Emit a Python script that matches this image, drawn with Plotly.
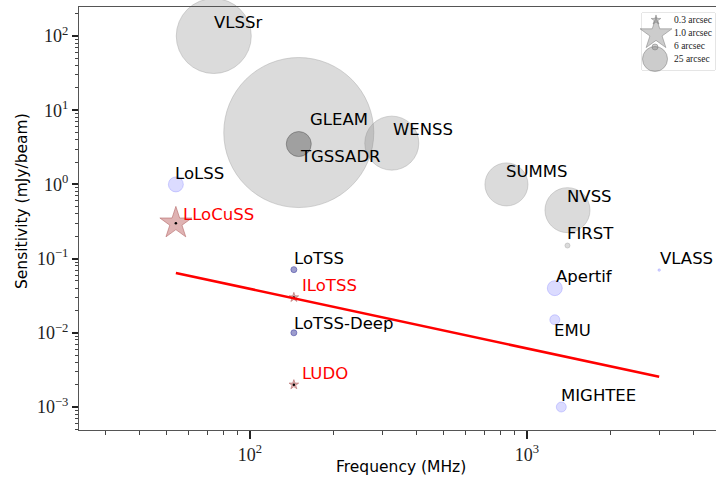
import numpy as np
import plotly.graph_objects as go

# ---------------- data ----------------
grey_names = ["VLSSr", "GLEAM", "WENSS", "SUMMS", "NVSS", "FIRST"]
grey_freq = [74, 150, 325, 843, 1400, 1400]
grey_sens = [100, 5.0, 3.6, 1.0, 0.45, 0.15]
grey_res = [75, 150, 54, 43, 45, 5]

tgss_names = ["TGSSADR"]
tgss_freq = [150]
tgss_sens = [3.5]
tgss_res = [25]

lblue_names = ["LoLSS", "Apertif", "EMU", "MIGHTEE", "VLASS"]
lblue_freq = [54, 1260, 1260, 1330, 3000]
lblue_sens = [1.0, 0.04, 0.015, 0.001, 0.07]
lblue_res = [15, 15, 10, 10, 2.5]

dblue_names = ["LoTSS", "LoTSS-Deep"]
dblue_freq = [144, 144]
dblue_sens = [0.071, 0.01]
dblue_res = [6, 6]

star_names = ["LLoCuSS", "ILoTSS", "LUDO"]
star_freq = [54, 144, 144]
star_sens = [0.3, 0.03, 0.002]
star_res = [1.0, 0.3, 0.3]

line_freq = [54, 3000]
line_sens = [0.064, 0.00255]

legend_labels = ["0.3 arcsec", "1.0 arcsec", "6 arcsec", "25 arcsec"]
legend_res = [0.3, 1.0, 6, 25]
legend_kind = ["star", "star", "circle", "circle"]

x_tickvals = [100, 1000]
x_ticktext = ["10<sup>2</sup>", "10<sup>3</sup>"]
y_tickvals = [1e-3, 1e-2, 1e-1, 1e0, 1e1, 1e2]
y_ticktext = ["10<sup>−3</sup>", "10<sup>−2</sup>", "10<sup>−1</sup>",
              "10<sup>0</sup>", "10<sup>1</sup>", "10<sup>2</sup>"]

# ---------------- styles ----------------
CIRCLE_PX_PER_ARCSEC = 1.0
STAR_PX_PER_ARCSEC = 24.0

W, H = 716, 486
ML, MR, MT, MB = 79, 0, 7, 56
PW, PH = W - ML - MR, H - MT - MB

fig = go.Figure()

def circ(names, f, s, r, fill, edge):
    fig.add_trace(go.Scatter(
        x=f, y=s, mode="markers", text=names, hoverinfo="text",
        marker=dict(symbol="circle", size=[v * CIRCLE_PX_PER_ARCSEC for v in r],
                    color=fill, line=dict(color=edge, width=1)),
        showlegend=False, cliponaxis=False))

circ(grey_names, grey_freq, grey_sens, grey_res, "rgba(128,128,128,0.4)", "rgba(128,128,128,0.45)")
circ(tgss_names, tgss_freq, tgss_sens, tgss_res, "rgba(0,0,0,0.38)", "rgba(0,0,0,0.4)")
circ(lblue_names, lblue_freq, lblue_sens, lblue_res, "rgba(0,0,255,0.2)", "rgba(0,0,255,0.22)")
circ(dblue_names, dblue_freq, dblue_sens, dblue_res, "rgba(0,0,128,0.55)", "rgba(0,0,128,0.6)")

fig.add_trace(go.Scatter(
    x=star_freq, y=star_sens, mode="markers", text=star_names, hoverinfo="text",
    marker=dict(symbol="star", size=[v * STAR_PX_PER_ARCSEC for v in star_res],
                color="rgba(165,42,42,0.5)", line=dict(color="rgba(150,40,40,0.6)", width=1)),
    showlegend=False, cliponaxis=False))
fig.add_trace(go.Scatter(
    x=star_freq, y=star_sens, mode="markers", hoverinfo="skip",
    marker=dict(symbol="circle", size=2.5, color="black"), showlegend=False))

fig.add_trace(go.Scatter(
    x=line_freq, y=line_sens, mode="lines", hoverinfo="skip",
    line=dict(color="red", width=2.6), showlegend=False))

# labels: (dx px, dy px) offsets of the text from the marker
label_offsets = {
    "VLSSr": (0, 14.5), "GLEAM": (11, 14.5), "TGSSADR": (1, -11), "WENSS": (1, 14.5),
    "LoLSS": (-1, 11.5), "LLoCuSS": (7, 10), "LoTSS": (0, 12), "ILoTSS": (8, 12.5),
    "LoTSS-Deep": (0, 10.5), "LUDO": (8, 12), "SUMMS": (0, 14), "NVSS": (0, 15),
    "FIRST": (0, 13.5), "VLASS": (1, 12.5), "Apertif": (1, 12.5), "EMU": (-1, -10),
    "MIGHTEE": (0, 12.5),
}
red_labels = set(star_names)

annotations = []
for names, f, s in [(grey_names, grey_freq, grey_sens), (tgss_names, tgss_freq, tgss_sens),
                    (lblue_names, lblue_freq, lblue_sens), (dblue_names, dblue_freq, dblue_sens),
                    (star_names, star_freq, star_sens)]:
    for n, fx, sy in zip(names, f, s):
        dx, dy = label_offsets[n]
        annotations.append(dict(
            x=np.log10(fx), y=np.log10(sy), xref="x", yref="y", text=n,
            showarrow=False, xanchor="left", yanchor="middle",
            xshift=dx - 2, yshift=dy - 1,
            font=dict(family="DejaVu Sans", size=16.5,
                      color="red" if n in red_labels else "black")))

# axis titles
annotations.append(dict(text="Frequency (MHz)", xref="paper", yref="paper",
                        x=(401 - ML) / PW, y=(H - MB - 467) / PH, showarrow=False,
                        xanchor="center", yanchor="middle",
                        font=dict(family="DejaVu Sans", size=15.5, color="black")))
annotations.append(dict(text="Sensitivity (mJy/beam)", xref="paper", yref="paper",
                        x=(22 - ML) / PW, y=(H - MB - 201) / PH, showarrow=False,
                        textangle=-90, xanchor="center", yanchor="middle",
                        font=dict(family="DejaVu Sans", size=15.5, color="black")))

# ---------------- legend (own small subplot) ----------------
bx0, bx1, by0, by1 = 642, 715, 13, 70
lx0, lx1 = (bx0 - ML) / PW, (bx1 - ML) / PW
ly0, ly1 = (H - MB - by1) / PH, (H - MB - by0) / PH
leg_rows_y = [7, 21, 34, 46]
leg_text_y = [7, 20, 33, 46]
for lab, r, kind, yy in zip(legend_labels, legend_res, legend_kind, leg_rows_y):
    size = r * (STAR_PX_PER_ARCSEC if kind == "star" else CIRCLE_PX_PER_ARCSEC)
    fig.add_trace(go.Scatter(
        x=[14 if kind == "star" else 13], y=[yy], xaxis="x2", yaxis="y2", mode="markers",
        hoverinfo="skip", showlegend=False, cliponaxis=False,
        marker=dict(symbol=kind, size=size, color="rgba(128,128,128,0.4)",
                    line=dict(color="rgba(110,110,110,0.45)", width=1))))
for lab, yy in zip(legend_labels, leg_text_y):
    annotations.append(dict(text=lab, xref="x2", yref="y2", x=30, y=yy, showarrow=False,
                            xanchor="left", yanchor="middle",
                            font=dict(family="Liberation Serif", size=9.5, color="#222")))

shapes = [dict(type="rect", xref="paper", yref="paper", x0=lx0, x1=lx1, y0=ly0, y1=ly1,
               line=dict(color="#cccccc", width=1), fillcolor="white", layer="below")]

def minor_vals(lo, hi):
    out = []
    for d in range(lo, hi):
        for m in range(2, 10):
            out.append(m * 10.0 ** d)
    return out

tickfont = dict(family="Liberation Serif", size=18, color="#222")

fig.update_layout(
    width=W, height=H, margin=dict(l=ML, r=MR, t=MT, b=MB, autoexpand=False),
    paper_bgcolor="white", plot_bgcolor="white",
    annotations=annotations, shapes=shapes,
    xaxis=dict(type="log", range=[1.3827, 3.6823], tickmode="array",
               tickvals=x_tickvals, ticktext=x_ticktext, tickfont=tickfont,
               ticks="outside", ticklen=8, tickwidth=1.5, tickcolor="#222",
               showgrid=False, zeroline=False, showline=True, linecolor="#555",
               linewidth=1, mirror=True, automargin=False,
               minor=dict(tickvals=minor_vals(1, 4), ticks="outside", ticklen=4,
                          tickwidth=1, tickcolor="#444", showgrid=False)),
    yaxis=dict(type="log", range=[-3.310, 2.391], tickmode="array",
               tickvals=y_tickvals, ticktext=y_ticktext, tickfont=tickfont,
               ticks="outside", ticklen=6, tickwidth=1.5, tickcolor="#222",
               showgrid=False, zeroline=False, showline=True, linecolor="#555",
               linewidth=1, mirror=False, automargin=False,
               minor=dict(tickvals=minor_vals(-4, 3), ticks="outside", ticklen=3,
                          tickwidth=1, tickcolor="#444", showgrid=False)),
    xaxis2=dict(domain=[lx0, lx1], range=[0, bx1 - bx0], anchor="y2", visible=False,
                fixedrange=True, automargin=False),
    yaxis2=dict(domain=[ly0, ly1], range=[by1 - by0, 0], anchor="x2", visible=False,
                fixedrange=True, automargin=False),
)

fig.write_html("out.html", config={"displayModeBar": False},
               post_script="document.body.style.margin='0px';document.body.style.overflow='hidden';")
